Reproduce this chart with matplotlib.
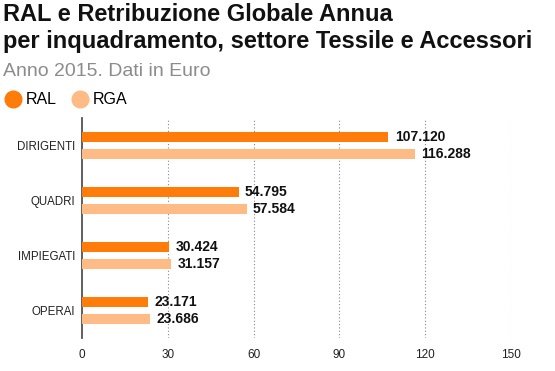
import numpy as np
import matplotlib
matplotlib.use("Agg")
import matplotlib.pyplot as plt
from matplotlib.lines import Line2D

plt.rcParams['font.family'] = ['Liberation Sans', 'DejaVu Sans']

categorie = ["DIRIGENTI", "QUADRI", "IMPIEGATI", "OPERAI"]
ral = [107.120, 54.795, 30.424, 23.171]
rga = [116.288, 57.584, 31.157, 23.686]
ral_lbl = ["107.120", "54.795", "30.424", "23.171"]
rga_lbl = ["116.288", "57.584", "31.157", "23.686"]
xticks = [0, 30, 60, 90, 120, 150]

c_ral = "#ff7b0a"
c_rga = "#ffbb86"

fig = plt.figure(figsize=(5.55, 3.71), dpi=100)
ax = fig.add_axes([82/555, 1-338/371, 429/555, 220/371])

y = np.arange(len(categorie))
off = 0.155
h = 0.19
ax.barh(y - off, ral, height=h, color=c_ral, zorder=3)
ax.barh(y + off, rga, height=h, color=c_rga, zorder=3)

for yi, v, s in zip(y, ral, ral_lbl):
    ax.text(v + 2.2, yi - off, s, va="center", ha="left", fontsize=10, fontweight="bold", color="#111111")
for yi, v, s in zip(y, rga, rga_lbl):
    ax.text(v + 2.2, yi + off, s, va="center", ha="left", fontsize=10, fontweight="bold", color="#111111")

ax.set_xlim(0, 150)
ax.set_ylim(3.5, -0.5)
ax.set_yticks(y)
ax.set_yticklabels(categorie, fontsize=8.3, color="#222222")
ax.set_xticks(xticks)
ax.set_xticklabels([str(t) for t in xticks], fontsize=8.5, color="#222222")
ax.tick_params(axis="both", length=0, pad=8)
ax.tick_params(axis="y", pad=5)

for t in xticks[1:]:
    ax.axvline(t, color="#888888", linestyle=(0, (1, 2)), linewidth=0.8, zorder=1)

for s in ["top", "right", "bottom"]:
    ax.spines[s].set_visible(False)
ax.spines["left"].set_color("#444444")
ax.spines["left"].set_linewidth(1.2)

fig.text(3/555, 1-3/371, "RAL e Retribuzione Globale Annua\nper inquadramento, settore Tessile e Accessori",
         ha="left", va="top", fontsize=17, fontweight="bold", color="#111111", linespacing=1.2)
fig.text(3/555, 1-63/371, "Anno 2015. Dati in Euro", ha="left", va="top", fontsize=14, color="#8c8c8c")

handles = [Line2D([], [], marker="o", linestyle="", markersize=12, color=c_ral),
           Line2D([], [], marker="o", linestyle="", markersize=12, color=c_rga)]
fig.legend(handles, ["RAL", "RGA"], loc="center left", bbox_to_anchor=(-9/555, 1-100/371),
           ncol=2, frameon=False, fontsize=11.5, handletextpad=0.25, columnspacing=1.0, handlelength=1.0)

fig.savefig("out.png", dpi=100)
